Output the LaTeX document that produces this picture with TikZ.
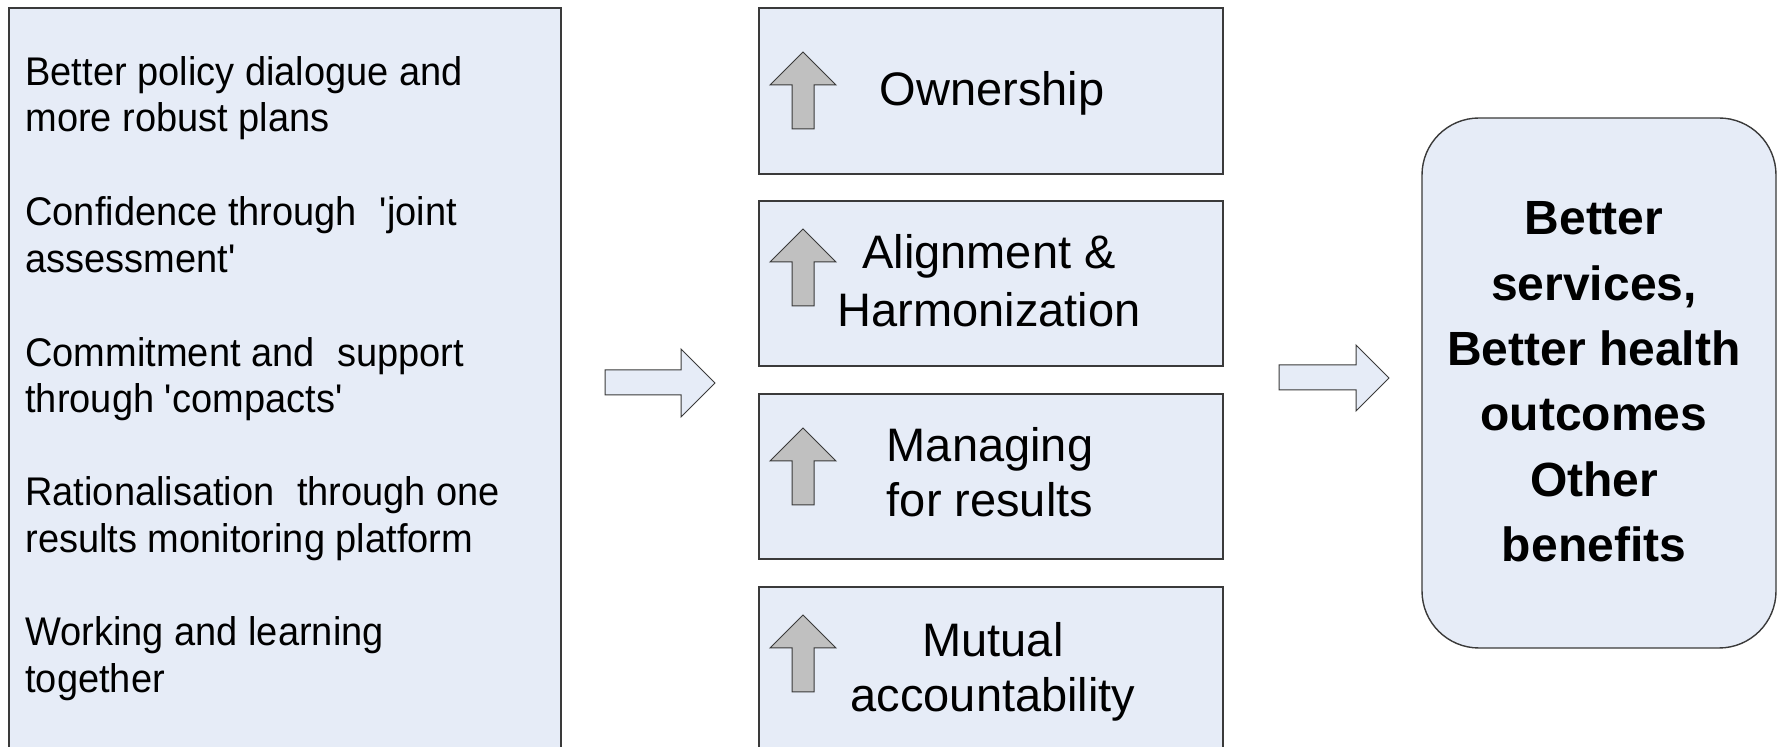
\documentclass[tikz,border=0pt]{standalone}
\usepackage{fontspec}
\setmainfont{Liberation Sans}
\newfontfamily\leftfont[FakeStretch=0.95]{Liberation Sans}
\definecolor{boxfill}{HTML}{E6ECF7}
\definecolor{arrowgray}{HTML}{C0C0C0}
\definecolor{edge}{HTML}{3A3A3A}
\tikzset{
  panel/.style={draw=edge, line width=0.7pt, fill=boxfill},
  uparrow/.style={draw=edge, line width=0.5pt, fill=arrowgray, line join=miter},
  blockarrow/.style={draw=edge, line width=0.5pt, fill=boxfill, line join=miter},
  lefttext/.style={anchor=base west, inner sep=0pt, font=\leftfont\fontsize{20pt}{23.4pt}\selectfont},
  midtext/.style={anchor=base, inner sep=0pt, font=\fontsize{23.5pt}{28.5pt}\selectfont},
  righttext/.style={anchor=base, inner sep=0pt, font=\bfseries\fontsize{24pt}{32.65pt}\selectfont}
}
\newcommand{\upar}[2]{% x-center, tip y
  \draw[uparrow] (#1,#2) -- (#1+33,#2+33) -- (#1+11,#2+33) -- (#1+11,#2+77)
    -- (#1-11,#2+77) -- (#1-11,#2+33) -- (#1-33,#2+33) -- cycle;}
\begin{document}
\begin{tikzpicture}[x=0.5pt,y=-0.5pt]
\useasboundingbox (0,0) rectangle (1779,747);
\begin{scope}
\clip (0,0) rectangle (1779,747);
% left panel
\draw[panel] (9,8) rectangle (561,770);
\node[lefttext] (l1a) at (25,85.5) {Better policy dialogue and};
\node[lefttext] (l1b) at (25,132) {more robust plans};
\node[lefttext] (l2a) at (25,226) {Confidence through\hspace{0.3em} \textquotesingle joint};
\node[lefttext] (l2b) at (25,273) {assessment\textquotesingle};
\node[lefttext] (l3a) at (25,367) {Commitment and\hspace{0.3em} support};
\node[lefttext] (l3b) at (25,413) {through \textquotesingle compacts\textquotesingle};
\node[lefttext] (l4a) at (25,506) {Rationalisation\hspace{0.3em} through one};
\node[lefttext] (l4b) at (25,553) {results monitoring platform};
\node[lefttext] (l5a) at (25,646) {Working and learning};
\node[lefttext] (l5b) at (25,692.5) {together};
% first block arrow
\draw[blockarrow] (605,370) -- (681,370) -- (681,349) -- (715,383) -- (681,417)
  -- (681,395) -- (605,395) -- cycle;
% middle boxes
\draw[panel] (759,8) rectangle (1223,174);
\draw[panel] (759,201) rectangle (1223,366);
\draw[panel] (759,394) rectangle (1223,559);
\draw[panel] (759,587) rectangle (1223,770);
\upar{803}{52}
\upar{803}{229}
\upar{803}{428}
\upar{803}{615}
\node[midtext] (m1) at (992,105.5) {Ownership};
\node[midtext] (m2a) at (989,269) {Alignment \&};
\node[midtext] (m2b) at (989,327) {Harmonization};
\node[midtext] (m3a) at (990,462) {Managing};
\node[midtext] (m3b) at (990,517) {for results};
\node[midtext] (m4a) at (993,657) {Mutual};
\node[midtext] (m4b) at (993,712) {accountability};
% second block arrow
\draw[blockarrow] (1279,365) -- (1356,365) -- (1356,345) -- (1389,378) -- (1356,411)
  -- (1356,390) -- (1279,390) -- cycle;
% right rounded box
\draw[panel, rounded corners=28.5pt] (1422,118) rectangle (1776,648);
\node[righttext] (r1) at (1594,235) {Better};
\node[righttext] (r2) at (1594,300.3) {services,};
\node[righttext] (r3) at (1594,365.6) {Better health};
\node[righttext] (r4) at (1594,430.9) {outcomes};
\node[righttext] (r5) at (1594,496.2) {Other};
\node[righttext] (r6) at (1594,561.5) {benefits};
\end{scope}
\end{tikzpicture}
\end{document}
